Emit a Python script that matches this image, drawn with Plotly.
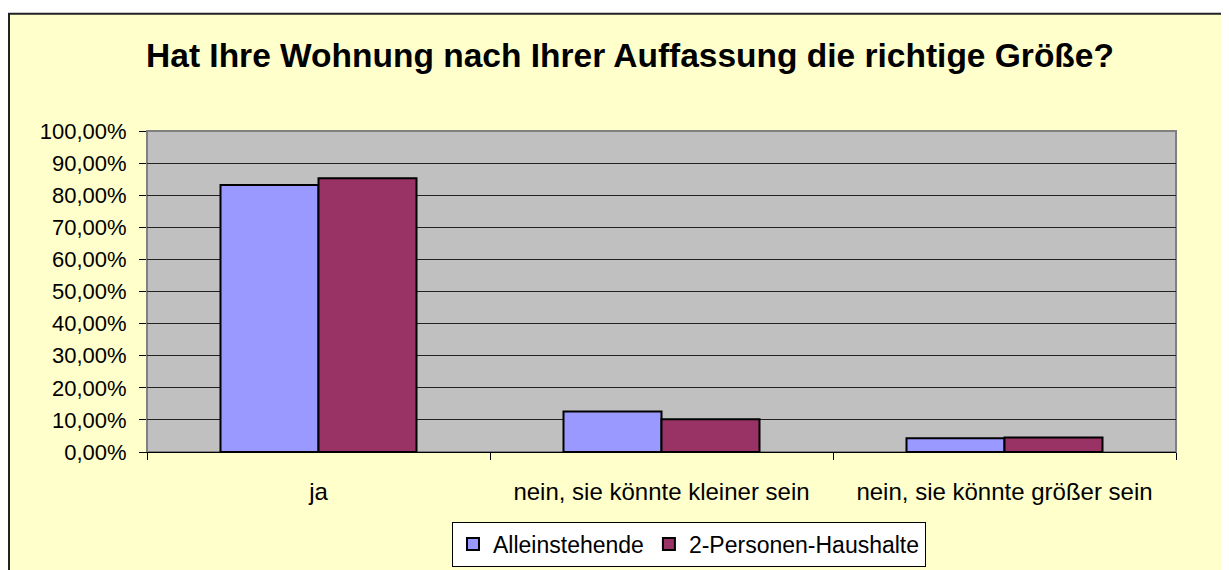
import plotly.graph_objects as go

categories = ["ja", "nein, sie könnte kleiner sein", "nein, sie könnte größer sein"]
alleinstehende = [0.832, 0.126, 0.043]
zwei_personen = [0.853, 0.102, 0.045]
series_names = ["Alleinstehende", "2-Personen-Haushalte"]
title_text = "Hat Ihre Wohnung nach Ihrer Auffassung die richtige Größe?"

# page body has an 8px margin; work in div coordinates
OFF = 8
W, H = 1229, 570
L, R, T, B = 147 - OFF, W - (1176 - OFF), 131 - OFF, H - (454 - OFF)
pw, ph = W - L - R, H - T - B

def px(x):
    return (x - OFF - L) / pw

def py(y):
    return (H - B - (y - OFF)) / ph

FONT = "Liberation Sans, Arial, sans-serif"

fig = go.Figure()
fig.add_trace(go.Bar(
    x=categories, y=alleinstehende, name=series_names[0],
    marker=dict(color="#9999FF", line=dict(color="#000000", width=2)),
))
fig.add_trace(go.Bar(
    x=categories, y=zwei_personen, name=series_names[1],
    marker=dict(color="#993366", line=dict(color="#000000", width=2)),
))

shapes = [
    # chart frame
    dict(type="rect", xref="paper", yref="paper",
         x0=px(9), x1=px(W + 40), y0=py(13), y1=py(H + 40),
         fillcolor="#FFFFCC", line=dict(color="#222222", width=2), layer="below"),
    # plot area
    dict(type="rect", xref="paper", yref="paper",
         x0=0, x1=1, y0=0, y1=1,
         fillcolor="#C0C0C0", line=dict(color="#808080", width=2), layer="below"),
]

fig.update_layout(
    width=W, height=H,
    margin=dict(l=L, r=R, t=T, b=B),
    paper_bgcolor="#FFFFFF",
    plot_bgcolor="rgba(0,0,0,0)",
    separators=",.",
    barmode="group",
    bargap=0.4286,
    bargroupgap=0,
    font=dict(family=FONT, color="#000000"),
    title=dict(text="<b>" + title_text + "</b>", x=(630 - OFF) / W, xanchor="center",
               y=1 - (55 - OFF) / H, yanchor="middle",
               font=dict(family=FONT, size=33.5, color="#000000")),
    shapes=shapes,
    showlegend=True,
    legend=dict(orientation="h", x=px(452), y=py(524), xanchor="left", yanchor="top",
                bgcolor="#FFFFFF", bordercolor="#000000", borderwidth=1,
                font=dict(family=FONT, size=23, color="#000000"),
                itemsizing="constant", traceorder="normal"),
    xaxis=dict(
        type="category", tickson="boundaries", ticks="outside", ticklen=7,
        tickcolor="#000000", showline=True, linecolor="#000000", linewidth=1,
        showgrid=False, ticklabelstandoff=18,
        tickfont=dict(family=FONT, size=24, color="#000000"),
    ),
    yaxis=dict(
        range=[0, 1], dtick=0.1, tickformat=".2%", ticks="outside", ticklen=7,
        tickcolor="#000000", showline=True, linecolor="#808080", linewidth=1,
        showgrid=True, gridcolor="#222222", gridwidth=1, zeroline=False,
        ticklabelstandoff=8,
        tickfont=dict(family=FONT, size=22, color="#000000"),
    ),
)

fig.write_html("out.html")
